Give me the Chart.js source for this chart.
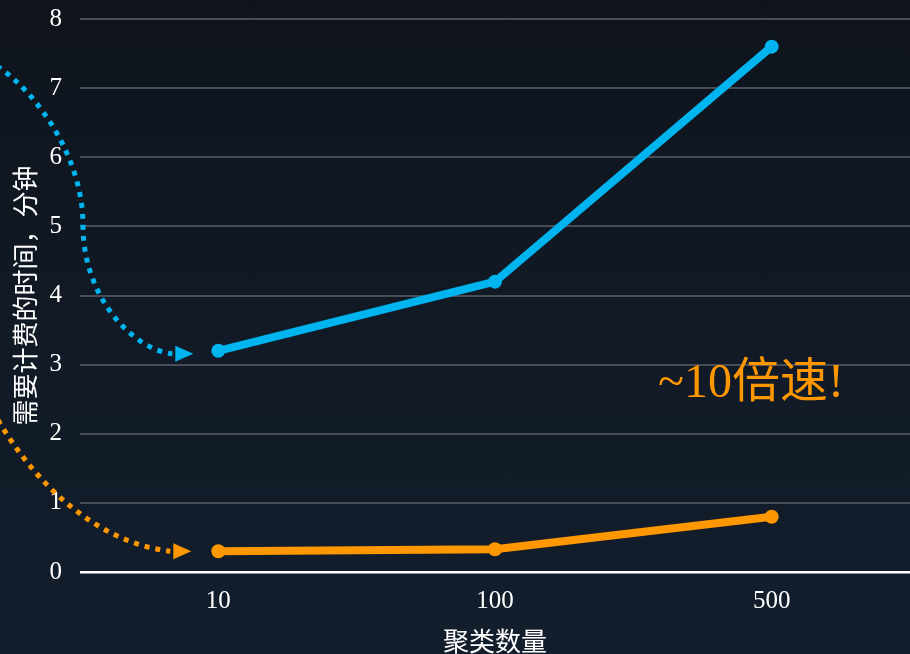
<!DOCTYPE html>
<html>
<head>
<meta charset="utf-8">
<script src="https://cdn.jsdelivr.net/npm/chart.js@4.4.0/dist/chart.umd.min.js"></script>
<style>
   html, body { margin: 0; padding: 0; }
   body {
      width: 910px;
      height: 654px;
      background: linear-gradient(180deg, #0f141c 0%, #111a26 55%, #131e2d 100%);
      overflow: hidden;
   }
   #wrap { position: relative; width: 910px; height: 654px; }
</style>
</head>
<body>
<div id="wrap"><canvas id="canvas-1"></canvas></div>
<script>
const CLUSTERS = ["10", "100", "500"];
const OLD_MINUTES = [3.2, 4.2, 7.6];
const NEW_MINUTES = [0.3, 0.33, 0.8];
const Y_TICKS = [0, 1, 2, 3, 4, 5, 6, 7, 8];

const BLUE = "#00b4f0";
const ORANGE = "#ff9800";
const SERIF = "'Liberation Serif', 'DejaVu Serif', 'Noto Sans CJK SC', serif";

// dotted curved arrows pointing at the first point of each series, plus the speed-up note
const annotations = {
   id: "annotations",
   afterDatasetsDraw(chart) {
      const { ctx, scales } = chart;
      const x0 = scales.x.getPixelForValue(0);

      const dotted = (color, build, ex, ey) => {
         ctx.save();
         ctx.strokeStyle = color;
         ctx.fillStyle = color;
         ctx.lineWidth = 5;
         ctx.setLineDash([5, 6]);
         ctx.beginPath();
         build();
         ctx.stroke();
         ctx.setLineDash([]);
         // arrow head
         ctx.beginPath();
         ctx.moveTo(ex + 21, ey);
         ctx.lineTo(ex + 3, ey - 8);
         ctx.lineTo(ex + 3, ey + 8);
         ctx.closePath();
         ctx.fill();
         ctx.restore();
      };

      const bx = x0 - 46;
      const by = scales.y.getPixelForValue(OLD_MINUTES[0]) + 3;
      dotted(BLUE, () => {
         ctx.moveTo(-3, 66);
         ctx.bezierCurveTo(40, 95, 83, 160, 83, 225);
         ctx.bezierCurveTo(83, 300, 135, by - 4, bx, by);
      }, bx, by);

      const ox = x0 - 48;
      const oy = scales.y.getPixelForValue(NEW_MINUTES[0]);
      dotted(ORANGE, () => {
         ctx.moveTo(-2, 420);
         ctx.bezierCurveTo(38, 488, 100, oy - 8, ox, oy);
      }, ox, oy);

      ctx.save();
      ctx.fillStyle = ORANGE;
      ctx.font = "48px " + SERIF;
      ctx.textAlign = "center";
      ctx.textBaseline = "alphabetic";
      ctx.fillText("~10倍速!", 751, 397);
      ctx.restore();
   },
};

const drawChart = () => {
   const canvas = document.getElementById("canvas-1");
   const ctx = canvas.getContext("2d");

   new Chart(ctx, {
      type: "line",
      data: {
         labels: CLUSTERS,
         datasets: [
            {
               label: "原来",
               data: OLD_MINUTES,
               borderColor: BLUE,
               backgroundColor: BLUE,
               borderWidth: 8,
               pointRadius: 7,
               pointBorderWidth: 0,
               tension: 0,
            },
            {
               label: "现在",
               data: NEW_MINUTES,
               borderColor: ORANGE,
               backgroundColor: ORANGE,
               borderWidth: 8,
               pointRadius: 7,
               pointBorderWidth: 0,
               tension: 0,
            },
         ],
      },
      options: {
         responsive: true,
         maintainAspectRatio: false,
         animation: false,
         layout: {
            autoPadding: false,
            padding: { top: 19, right: -6, bottom: 0, left: 0 },
         },
         plugins: {
            legend: { display: false },
            tooltip: { enabled: false },
         },
         scales: {
            x: {
               offset: true,
               afterFit: (axis) => {
                  axis.height = 82;
                  axis.paddingLeft = 0;
                  axis.paddingRight = 0;
               },
               grid: { display: false, drawTicks: false },
               border: { display: false },
               ticks: {
                  color: "#ffffff",
                  padding: 14,
                  font: { family: SERIF, size: 25 },
               },
               title: {
                  display: true,
                  text: "聚类数量",
                  color: "#ffffff",
                  padding: { top: -6, bottom: -6 },
                  font: { family: SERIF, size: 26 },
               },
            },
            y: {
               min: 0,
               max: 8,
               afterBuildTicks: (axis) => {
                  axis.ticks = Y_TICKS.map((v) => ({ value: v }));
               },
               afterFit: (axis) => {
                  axis.width = 80;
                  axis.paddingTop = 0;
                  axis.paddingBottom = 0;
               },
               grid: {
                  drawTicks: false,
                  lineWidth: (c) => (c.tick && c.tick.value === 0 ? 2.5 : 2),
                  color: (c) => (c.tick && c.tick.value === 0 ? "#ffffff" : "#474d56"),
               },
               border: { display: false },
               ticks: {
                  color: "#ffffff",
                  padding: 18,
                  font: { family: SERIF, size: 25 },
               },
               title: {
                  display: true,
                  text: "需要计费的时间，分钟",
                  color: "#ffffff",
                  padding: { top: 13, bottom: 10 },
                  font: { family: SERIF, size: 26 },
               },
            },
         },
      },
      plugins: [annotations],
   });
};

drawChart();
</script>
</body>
</html>
